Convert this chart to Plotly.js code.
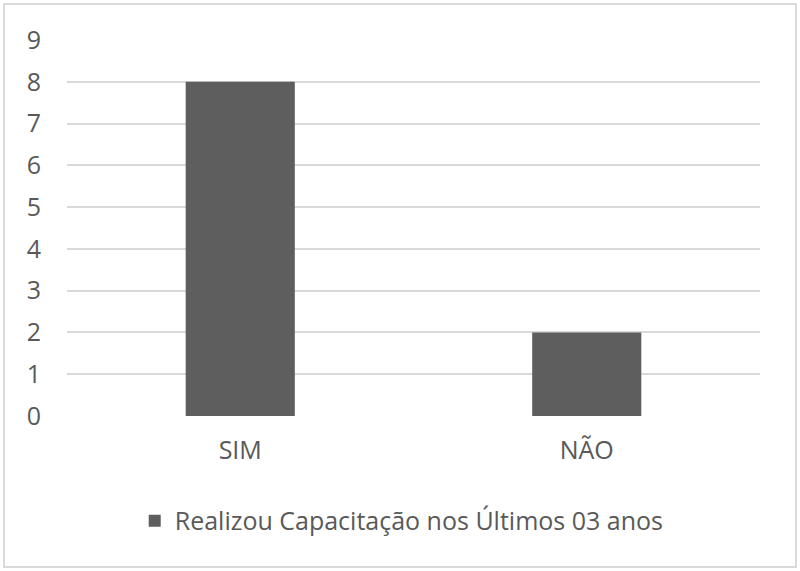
<!DOCTYPE html>
<html><head><meta charset="utf-8">
<script src="https://cdn.plot.ly/plotly-3.0.1.min.js"></script>
<style>
html,body{margin:0;padding:0;background:#fff;}
#wrap{position:relative;width:800px;height:571px;}
#chart{width:800px;height:571px;}
#frame{position:absolute;left:3px;top:3px;width:790px;height:561px;border:2px solid #d9d9d9;pointer-events:none;}
</style></head>
<body>
<div id="wrap"><div id="chart"></div><div id="frame"></div></div>
<script>
const categories = ["SIM", "NÃO"];
const values = [8, 2];
const seriesName = "Realizou Capacitação nos Últimos 03 anos";
const yTicks = [0,1,2,3,4,5,6,7,8,9];

const font = "'Open Sans', 'Noto Sans', sans-serif";
Plotly.newPlot('chart', [{
  type: 'bar', x: categories, y: values, name: seriesName,
  marker: {color: '#5e5e5e'}, showlegend: true
}], {
  width: 800, height: 571,
  margin: {l: 67, r: 40, t: 40, b: 155},
  paper_bgcolor: '#fff', plot_bgcolor: '#fff',
  bargap: 0.685,
  font: {family: font, size: 25, color: '#595959'},
  xaxis: {showgrid: false, showline: false, zeroline: false, ticks: '', ticklabelstandoff: 17,
          tickfont: {size: 25, color: '#595959'}},
  yaxis: {range: [0, 9], tickvals: yTicks, showgrid: true, gridcolor: '#d9d9d9', gridwidth: 2,
          zeroline: false, showline: false, ticks: '', ticklabelstandoff: 25,
          tickfont: {size: 25, color: '#595959'}},
  showlegend: true,
  legend: {orientation: 'h', x: 0.483, xanchor: 'center', y: -0.279, yanchor: 'middle',
           font: {size: 25, color: '#595959'}, itemwidth: 30}
}, {displayModeBar: false, staticPlot: true});
</script>
</body></html>
